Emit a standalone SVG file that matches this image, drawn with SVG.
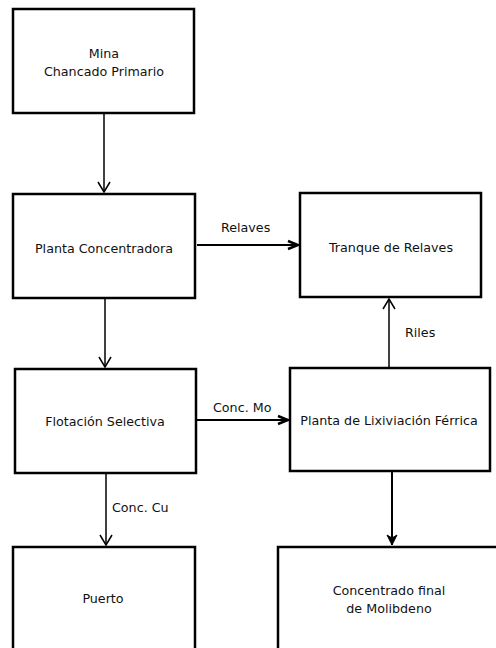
<svg xmlns="http://www.w3.org/2000/svg" width="496" height="648" viewBox="0 0 496 648">
<style>
.box{fill:#fff;stroke:#000;stroke-width:2.5}
.t{font-family:"DejaVu Sans",sans-serif;font-size:12.7px;fill:#111;text-anchor:middle}
.l{font-family:"DejaVu Sans",sans-serif;font-size:12.7px;fill:#111}
.c{fill:none;stroke:#000;stroke-width:1.5}
</style>
<defs>
<marker id="v" markerWidth="14" markerHeight="14" refX="12" refY="7" orient="auto" markerUnits="userSpaceOnUse">
<path d="M2,1 L12,7 L2,13" fill="none" stroke="#000" stroke-width="1.5"/>
</marker>
<marker id="vb" markerWidth="14" markerHeight="14" refX="12" refY="7" orient="auto" markerUnits="userSpaceOnUse">
<path d="M2,3 L12,7 L2,11" fill="none" stroke="#000" stroke-width="2.5"/>
</marker>
<marker id="f" markerWidth="14" markerHeight="14" refX="12" refY="7" orient="auto" markerUnits="userSpaceOnUse">
<path d="M2,2 L12,7 L2,12 L5,7 Z" fill="#000" stroke="#000" stroke-width="1"/>
</marker>
</defs>
<g id="connectors">
<line class="c" x1="104" y1="114" x2="104" y2="192" marker-end="url(#v)"/>
<line class="c" x1="105" y1="299" x2="105" y2="367" marker-end="url(#v)"/>
<line class="c" style="stroke-width:2" x1="197" y1="245" x2="298" y2="245" marker-end="url(#vb)"/>
<text class="l" x="221" y="232">Relaves</text>
<line class="c" x1="389" y1="367" x2="389" y2="299" marker-end="url(#v)"/>
<text class="l" x="405" y="337">Riles</text>
<line class="c" style="stroke-width:2" x1="197" y1="420" x2="288" y2="420" marker-end="url(#vb)"/>
<text class="l" x="213" y="412">Conc. Mo</text>
<line class="c" x1="106" y1="474" x2="106" y2="545" marker-end="url(#v)"/>
<text class="l" x="112" y="512">Conc. Cu</text>
<line class="c" style="stroke-width:2" x1="392" y1="472" x2="392" y2="545" marker-end="url(#f)"/>
</g>
<g id="mina">
<rect class="box" x="13" y="9" width="181" height="104"/>
<text class="t" x="104" y="58">Mina</text>
<text class="t" x="104" y="76">Chancado Primario</text>
</g>
<g id="planta-concentradora">
<rect class="box" x="13" y="194" width="182" height="104"/>
<text class="t" x="104" y="253">Planta Concentradora</text>
</g>
<g id="tranque">
<rect class="box" x="300" y="193" width="181" height="104"/>
<text class="t" x="391" y="252">Tranque de Relaves</text>
</g>
<g id="flotacion">
<rect class="box" x="15" y="369" width="181" height="104"/>
<text class="t" x="105" y="426">Flotación Selectiva</text>
</g>
<g id="lixiviacion">
<rect class="box" x="290" y="368" width="200" height="103"/>
<text class="t" x="389" y="425">Planta de Lixiviación Férrica</text>
</g>
<g id="puerto">
<rect class="box" x="13" y="547" width="182" height="110"/>
<text class="t" x="103" y="603">Puerto</text>
</g>
<g id="concentrado">
<rect class="box" x="278" y="547" width="230" height="110"/>
<text class="t" x="389" y="595">Concentrado final</text>
<text class="t" x="389" y="613">de Molibdeno</text>
</g>
</svg>
